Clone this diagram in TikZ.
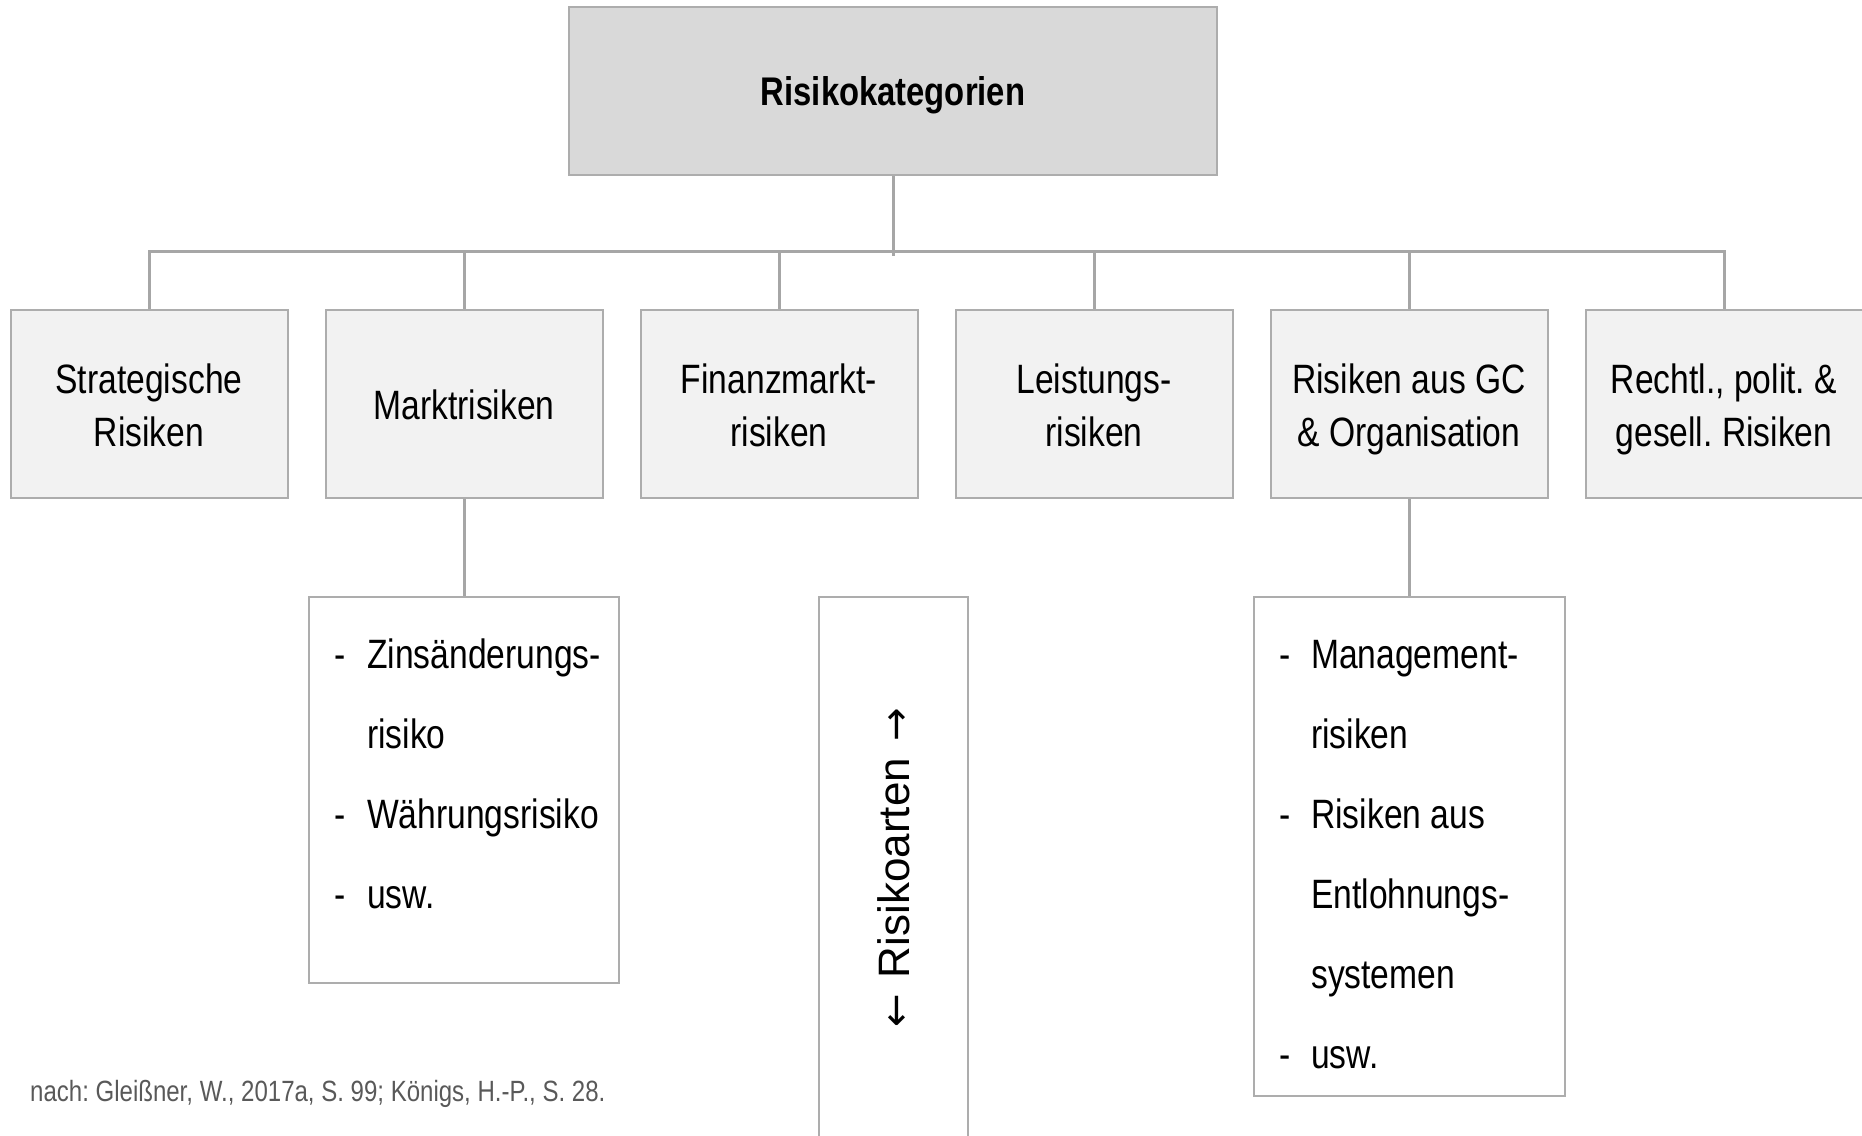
\documentclass[tikz,border=0pt]{standalone}
\usepackage{fontspec}
\setmainfont{Liberation Sans}
\newfontfamily\narrowfont[FakeStretch=0.82]{Liberation Sans}
\newfontfamily\arrowfont{DejaVu Sans}
\definecolor{linegray}{HTML}{A6A6A6}
\definecolor{boxborder}{HTML}{ADADAD}
\definecolor{topfill}{HTML}{D9D9D9}
\definecolor{rowfill}{HTML}{F2F2F2}
\definecolor{footgray}{HTML}{595959}
\newcommand\dashitem[1]{\makebox[#1][l]{-}}
\newcommand\tallstrut{\rule{0pt}{47pt}}
\newcommand\arrowglyph[1]{{\arrowfont\fontsize{40}{50}\selectfont #1}}
\begin{document}
\frenchspacing
\begin{tikzpicture}[x=1pt,y=1pt,
  conn/.style={draw=linegray, line width=3pt},
  frame/.style={draw=boxborder, line width=2pt},
  topbox/.style={frame, fill=topfill, minimum width=648pt, minimum height=168pt, inner sep=0pt,
    font=\narrowfont\bfseries\fontsize{40}{48}\selectfont},
  catbox/.style={frame, fill=rowfill, minimum width=277pt, minimum height=188pt, inner sep=0pt,
    align=center, font=\narrowfont\fontsize{41}{53}\selectfont},
  subbox/.style={frame, fill=white, inner sep=0pt},
  listtext/.style={anchor=base west, inner sep=0pt, font=\narrowfont\fontsize{41}{80}\selectfont}
]
\useasboundingbox (0,0) rectangle (1862,-1135);

% top box
\node[topbox] (top) at (893,-91) {\rule{0pt}{37pt}Risikokategorien};

% category boxes
\node[catbox] (c1) at (149,-404) {\tallstrut Strategische\\Risiken\strut};
\node[catbox] (c2) at (464,-404) {\tallstrut Marktrisiken\strut};
\node[catbox] (c3) at (779,-404) {\tallstrut Finanzmarkt-\\risiken\strut};
\node[catbox] (c4) at (1094,-404) {\tallstrut Leistungs-\\risiken\strut};
\node[catbox] (c5) at (1409,-404) {\tallstrut Risiken aus GC\\\& Organisation\strut};
\node[catbox] (c6) at (1724,-404) {\tallstrut Rechtl., polit. \&\\gesell. Risiken\strut};

% bus
\coordinate (bus) at (893,-251);
\coordinate (busend) at (893,-256);
\draw[conn] (top.south) -- (busend);
\draw[conn] (c1.north) -- (c1.north |- bus) -- (c6.north |- bus) -- (c6.north);
\foreach \n in {c2,c3,c4,c5} {\draw[conn] (\n.north |- bus) -- (\n.north);}

% sub boxes
\node[subbox, minimum width=310pt, minimum height=386pt] (msub) at (464,-790) {};
\node[subbox, minimum width=311pt, minimum height=499pt] (gsub) at (1409,-846.5) {};
\draw[conn] (c2.south) -- (c2.south |- msub.north);
\draw[conn] (c5.south) -- (c5.south |- gsub.north);

\node[listtext] (mlist) at (334,-668.5) {\begin{tabular}[t]{@{}l@{}l@{}}
\dashitem{33pt}& Zinsänderungs-\\
& risiko\\
\dashitem{33pt}& Währungsrisiko\\
\dashitem{33pt}& usw.
\end{tabular}};

\node[listtext] (glist) at (1279,-668.5) {\begin{tabular}[t]{@{}l@{}l@{}}
\dashitem{32pt}& Management-\\
& risiken\\
\dashitem{32pt}& Risiken aus\\
& Entlohnungs-\\
& systemen\\
\dashitem{32pt}& usw.
\end{tabular}};

% Risikoarten open box
\coordinate (raBL) at (819,-1137);
\coordinate (raTL) at (819,-597);
\coordinate (raTR) at (968,-597);
\coordinate (raBR) at (968,-1137);
\draw[frame] (raBL) -- (raTL) -- (raTR) -- (raBR);
\node[rotate=90, inner sep=0pt, font=\fontsize{44}{52}\selectfont] (ra) at (894,-868)
  {\arrowglyph{←}\hspace{16pt}Risikoarten\hspace{16pt}\arrowglyph{→}};

% source
\node[anchor=base west, inner sep=0pt, text=footgray, font=\narrowfont\fontsize{29.3}{35}\selectfont] (src) at (30,-1101.5)
  {nach: Gleißner, W., 2017a, S. 99; Königs, H.-P., S. 28.};
\end{tikzpicture}
\end{document}
